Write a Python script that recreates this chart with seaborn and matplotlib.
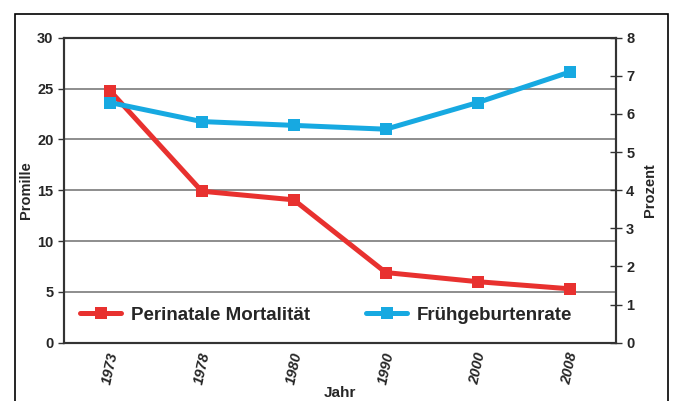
import matplotlib
matplotlib.use("Agg")
import matplotlib.pyplot as plt
import seaborn as sns
import pandas as pd
from matplotlib.patches import Rectangle

years = ["1973", "1978", "1980", "1990", "2000", "2008"]
mortalitaet = [24.8, 14.9, 14.05, 6.9, 6.0, 5.3]
fruehgeburten = [6.3, 5.8, 5.7, 5.6, 6.3, 7.1]

sns.set_theme(style="white")
plt.rcParams['font.family'] = ['Liberation Sans', 'DejaVu Sans']

RED = "#E8312F"
BLUE = "#17A9E1"

df = pd.DataFrame({"idx": range(len(years)), "Jahr": years,
                   "mort": mortalitaet, "frueh": fruehgeburten})

fig = plt.figure(figsize=(6.74, 4.01), dpi=100)
ax = fig.add_axes([0.0947, 0.1454, 0.8189, 0.7606])
ax2 = ax.twinx()

sns.lineplot(data=df, x="idx", y="mort", ax=ax, color=RED, lw=3.6,
             marker="s", markersize=9, markeredgewidth=0, label="Perinatale Mortalität",
             legend=False, zorder=4)
sns.lineplot(data=df, x="idx", y="frueh", ax=ax2, color=BLUE, lw=3.6,
             marker="s", markersize=9, markeredgewidth=0, label="Frühgeburtenrate",
             legend=False, zorder=3)

ax.set_xlim(-0.5, len(years) - 0.5)
ax.set_ylim(0, 30)
ax2.set_ylim(0, 8)
ax.set_yticks(range(0, 31, 5))
ax2.set_yticks(range(0, 9))
ax.yaxis.grid(True, color="#7a7a7a", lw=1.2)
ax.set_axisbelow(True)

ax.set_xticks([i - 0.5 for i in range(len(years) + 1)])
ax.set_xticklabels([])
ax.set_xticks(range(len(years)), minor=True)
ax.set_xticklabels(years, minor=True, rotation=78, fontsize=10.5,
                   fontweight="bold", style="italic")
ax.tick_params(axis="x", which="major", direction="inout", length=8, width=1, color="#333333")
ax.tick_params(axis="x", which="minor", length=0, pad=6)
ax.tick_params(axis="y", direction="out", length=4, width=1, color="#333333", labelsize=10.5)
ax2.tick_params(axis="y", direction="inout", length=8, width=1, color="#333333", labelsize=10.5)
for lab in ax.get_yticklabels() + ax2.get_yticklabels():
    lab.set_fontweight("bold")

for sp in ax.spines.values():
    sp.set_color("#333333"); sp.set_linewidth(1.5)
for sp in ax2.spines.values():
    sp.set_color("#333333"); sp.set_linewidth(1.5)

ax.set_xlabel("Jahr", fontsize=11, fontweight="bold", labelpad=0)
ax.set_ylabel("Promille", fontsize=10.5, fontweight="bold", labelpad=3)
ax2.set_ylabel("Prozent", fontsize=10.5, fontweight="bold", labelpad=6)

h1, l1 = ax.get_legend_handles_labels()
h2, l2 = ax2.get_legend_handles_labels()
ax2.legend(h1 + h2, l1 + l2, loc="center", bbox_to_anchor=(0.475, 0.09), ncol=2,
           frameon=False, prop={"size": 13.5, "weight": "bold"},
           handlelength=2.2, columnspacing=3.0, handletextpad=0.5)

fig.patches.append(Rectangle((15 / 674, -0.05), (668 - 15) / 674, (401 - 14) / 401 + 0.05,
                             transform=fig.transFigure, fill=False, ec="black", lw=1.2))

fig.savefig("out.png", dpi=100)
